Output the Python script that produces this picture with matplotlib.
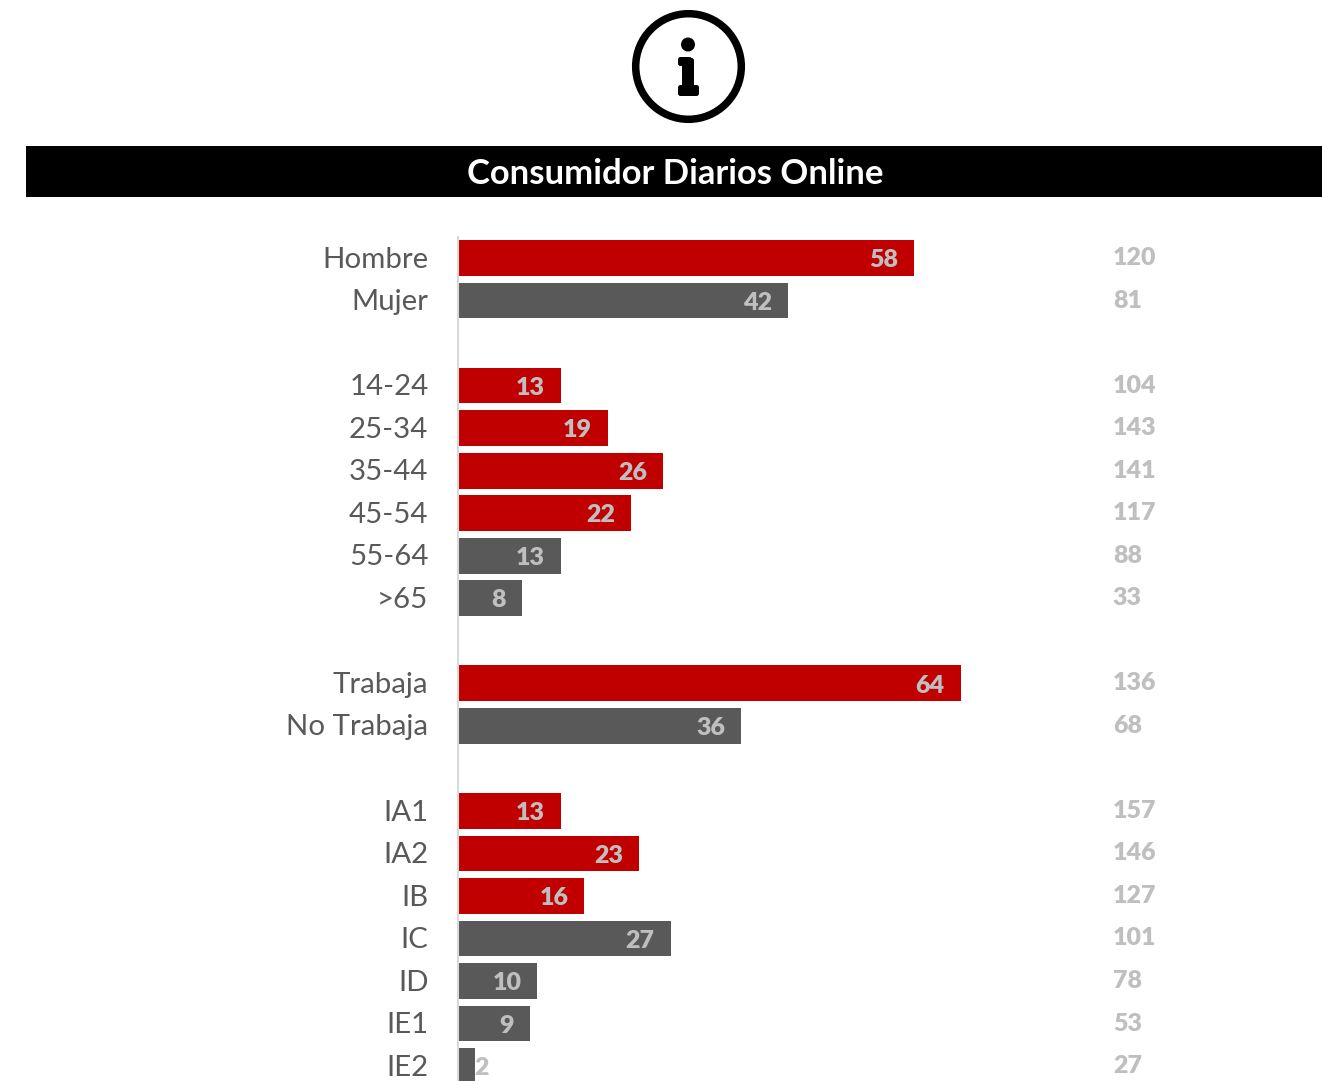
import matplotlib
matplotlib.use('Agg')
import matplotlib.pyplot as plt
from matplotlib.patches import Circle, FancyBboxPatch, Rectangle

W, H = 1322, 1081

# one blank row is left between groups
labels = ['Hombre', 'Mujer', '',
          '14-24', '25-34', '35-44', '45-54', '55-64', '>65', '',
          'Trabaja', 'No Trabaja', '',
          'IA1', 'IA2', 'IB', 'IC', 'ID', 'IE1', 'IE2']
shares = [58, 42, None,
          13, 19, 26, 22, 13, 8, None,
          64, 36, None,
          13, 23, 16, 27, 10, 9, 2]
bases = [120, 81, None,
         104, 143, 141, 117, 88, 33, None,
         136, 68, None,
         157, 146, 127, 101, 78, 53, 27]
highlighted = ['Hombre', '14-24', '25-34', '35-44', '45-54', 'Trabaja', 'IA1', 'IA2', 'IB']

RED = '#C00000'
GREY = '#595959'
LIGHT = '#BFBFBF'

plt.rcParams['font.family'] = ['Lato', 'DejaVu Sans']

fig = plt.figure(figsize=(W / 100, H / 100), dpi=100)

# page layer in pixel units: title band and info icon
page = fig.add_axes([0, 0, 1, 1])
page.set_xlim(0, W)
page.set_ylim(H, 0)
page.axis('off')
page.add_patch(Rectangle((26, 146), W - 26, 51, color='black', lw=0))
page.text(675, 174.5, 'Consumidor Diarios Online', color='white', fontsize=24.9,
          fontweight='bold', ha='center', va='center')

page.add_patch(Circle((688.5, 66.5), 52.8, fill=False, ec='black', lw=5.4))
page.add_patch(Circle((688, 44.5), 7, color='black', lw=0))
icon_parts = [(682, 58, 12, 36), (678, 57, 14, 9), (678, 85, 21, 11)]
for x0, y0, w, h in icon_parts:
    page.add_patch(FancyBboxPatch((x0 + 2.5, y0 + 2.5), w - 5, h - 5,
                                  boxstyle='round,pad=2.5', color='black', lw=0))

# chart layer: one unit on x is 7.84 px, one row is 42.53 px
x0_px, row_px, first_row_px = 459, 42.53, 258
ax = fig.add_axes([x0_px / W, 0, (W - x0_px) / W, (H - 237) / H])
ax.set_xlim(0, (W - x0_px) / 7.84)
ax.set_ylim((H - first_row_px) / row_px, (237 - first_row_px) / row_px)
ax.patch.set_alpha(0)

for i, (label, share, base) in enumerate(zip(labels, shares, bases)):
    if share is None:
        continue
    color = RED if label in highlighted else GREY
    ax.barh(i, share, height=0.84, color=color)
    ax.annotate(label, (0, i), xytext=(-22, -1.2), textcoords='offset points',
                ha='right', va='center', color=GREY, fontsize=21.2, annotation_clip=False)
    if share < 5:
        ax.annotate(str(share), (share, i), xytext=(0, -1.6), textcoords='offset points',
                    ha='left', va='center', color=LIGHT, fontsize=18, fontweight='heavy')
    else:
        ax.annotate(str(share), (share, i), xytext=(-11.5, -1.6), textcoords='offset points',
                    ha='right', va='center', color=LIGHT, fontsize=18, fontweight='heavy')
    ax.annotate(str(base), (83.3, i), xytext=(0.5, 0), textcoords='offset points',
                ha='left', va='center', color=LIGHT, fontsize=18, fontweight='heavy')

ax.set_xticks([])
ax.set_yticks([])
for side in ['top', 'right', 'bottom']:
    ax.spines[side].set_visible(False)
ax.spines['left'].set_color('#D9D9D9')
ax.spines['left'].set_linewidth(1.5)
ax.spines['left'].set_position(('outward', 0.75))

fig.savefig('out.png', dpi=100)
